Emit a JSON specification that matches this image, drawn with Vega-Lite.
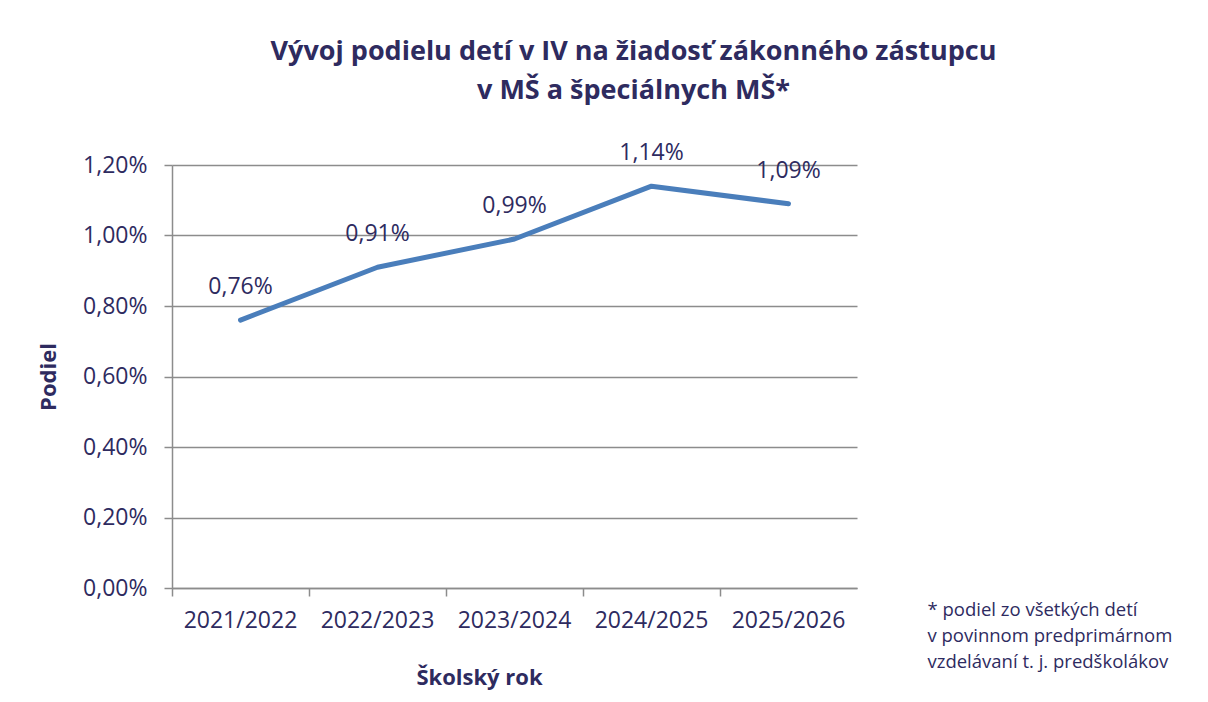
{
  "$schema": "https://vega.github.io/schema/vega-lite/v6.json",
  "width": 685,
  "height": 423,
  "autosize": "none",
  "padding": {"left": 172, "top": 165, "right": 351, "bottom": 114},
  "background": "white",
  "config": {
    "locale": {"number": {"decimal": ",", "thousands": " ", "grouping": [3], "currency": ["", " €"]}},
    "font": "Open Sans",
    "view": {"stroke": null},
    "axis": {"labelFont": "Open Sans", "titleFont": "Open Sans", "labelColor": "#2E2B5F", "titleColor": "#2E2B5F"}
  },
  "title": {
    "text": ["Vývoj podielu detí v IV na žiadosť zákonného zástupcu", "v MŠ a špeciálnych MŠ*"],
    "font": "Open Sans",
    "fontSize": 27,
    "fontWeight": "bold",
    "color": "#2E2B5F",
    "anchor": "middle",
    "dx": 119,
    "offset": 37,
    "lineHeight": 39
  },
  "data": {
    "values": [
      {"rok": "2021/2022", "podiel": 0.0076},
      {"rok": "2022/2023", "podiel": 0.0091},
      {"rok": "2023/2024", "podiel": 0.0099},
      {"rok": "2024/2025", "podiel": 0.0114},
      {"rok": "2025/2026", "podiel": 0.0109}
    ]
  },
  "encoding": {
    "x": {
      "field": "rok",
      "type": "ordinal",
      "scale": {"type": "band", "paddingInner": 0, "paddingOuter": 0},
      "axis": {
        "title": "Školský rok",
        "titleFontSize": 22,
        "titleFontWeight": "bold",
        "titleX": 307,
        "titleY": 89,
        "titleBaseline": "middle",
        "titleAlign": "center",
        "labelAngle": 0,
        "labelFontSize": 23,
        "labelPadding": 13,
        "bandPosition": 0,
        "ticks": true,
        "tickSize": 8,
        "tickColor": "#8C8C8C",
        "tickWidth": 1.5,
        "domainColor": "#8C8C8C",
        "domainWidth": 1.5,
        "grid": false
      }
    },
    "y": {
      "field": "podiel",
      "type": "quantitative",
      "scale": {"domain": [0, 0.012], "nice": false}
    }
  },
  "layer": [
    {
      "mark": {"type": "line", "color": "#4A7EBB", "strokeWidth": 5, "strokeCap": "round", "strokeJoin": "round"},
      "encoding": {
        "y": {
          "field": "podiel",
          "type": "quantitative",
          "axis": {
            "title": "Podiel",
            "titleFontSize": 22,
            "titleFontWeight": "bold",
            "titlePadding": 22,
            "values": [0, 0.002, 0.004, 0.006, 0.008, 0.01, 0.012],
            "format": ".2%",
            "labelFontSize": 23,
            "labelPadding": 17,
            "tickSize": 8,
            "tickColor": "#8C8C8C",
            "tickWidth": 1.5,
            "domainColor": "#8C8C8C",
            "domainWidth": 1.5,
            "grid": true,
            "gridColor": "#8C8C8C",
            "gridWidth": 1.5
          }
        }
      }
    },
    {
      "mark": {"type": "text", "dy": -33, "fontSize": 23, "color": "#2E2B5F", "font": "Open Sans", "baseline": "middle"},
      "encoding": {
        "text": {"field": "podiel", "type": "quantitative", "format": ".2%"},
        "y": {
          "field": "podiel",
          "type": "quantitative",
          "axis": {
            "orient": "right",
            "labels": false,
            "ticks": false,
            "domain": false,
            "grid": false,
            "title": ["* podiel zo všetkých detí", "v povinnom predprimárnom", "vzdelávaní t. j. predškolákov"],
            "titleAngle": 0,
            "titleAlign": "left",
            "titleBaseline": "top",
            "titleFontSize": 18.5,
            "titleFontWeight": "normal",
            "titleLineHeight": 26,
            "titleX": 70,
            "titleY": 435
          }
        }
      }
    }
  ],
  "resolve": {"axis": {"y": "independent"}}
}
